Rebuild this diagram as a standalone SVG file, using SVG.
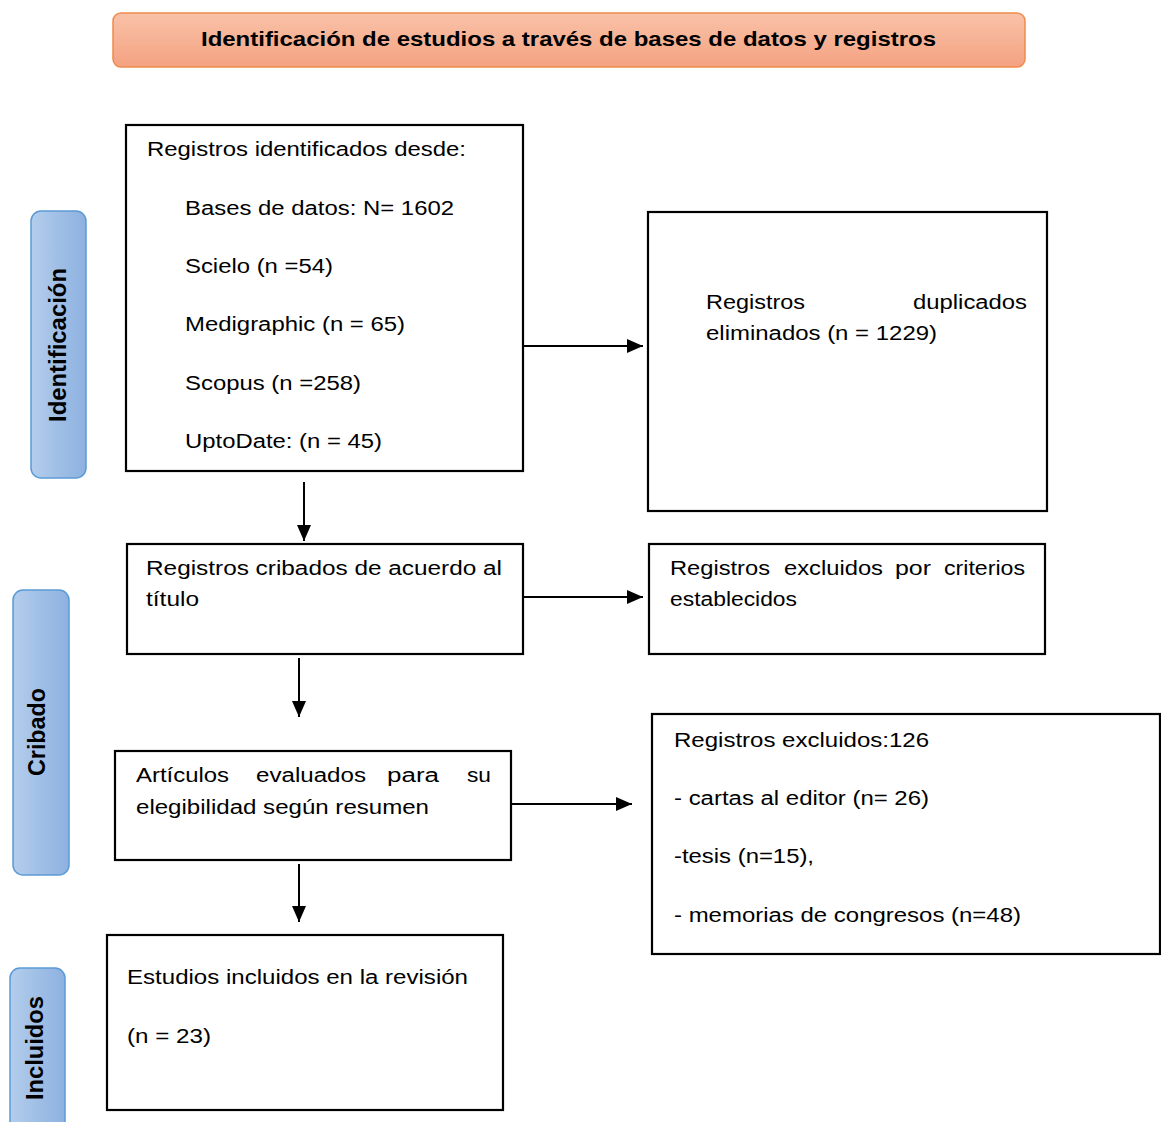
<svg xmlns="http://www.w3.org/2000/svg" width="1161" height="1122" viewBox="0 0 1161 1122">
<defs>
<linearGradient id="gOrange" x1="0" y1="0" x2="0" y2="1">
<stop offset="0" stop-color="#f9c2a8"/>
<stop offset="1" stop-color="#f4a281"/>
</linearGradient>
<linearGradient id="gBlue" x1="0" y1="0" x2="1" y2="0">
<stop offset="0" stop-color="#b3cdec"/>
<stop offset="1" stop-color="#8db1e0"/>
</linearGradient>
<marker id="arr" markerWidth="16" markerHeight="14" refX="16" refY="7" orient="auto" markerUnits="userSpaceOnUse">
<path d="M0,0 L16,7 L0,14 Z" fill="#000"/>
</marker>
<style>
.box{fill:#fff;stroke:#000;stroke-width:2.2}
.side{fill:url(#gBlue);stroke:#5b9bd5;stroke-width:1.5}
.t{font-family:"Liberation Sans",Arial,sans-serif;font-size:20px;fill:#000}
.sl{font-family:"Liberation Sans",Arial,sans-serif;font-size:23px;font-weight:bold;fill:#000;text-anchor:middle}
.hd{font-family:"Liberation Sans",Arial,sans-serif;font-size:20.5px;font-weight:bold;fill:#000}
.c{stroke:#000;stroke-width:2;fill:none;marker-end:url(#arr)}
</style>
</defs>
<rect width="1161" height="1122" fill="#fff"/>

<g id="header">
<rect x="113" y="13" width="912" height="54" rx="8" fill="url(#gOrange)" stroke="#f08a4b" stroke-width="1.5"/>
<text class="hd" x="201" y="46" textLength="735" lengthAdjust="spacingAndGlyphs">Identificación de estudios a través de bases de datos y registros</text>
</g>

<g id="side-identificacion">
<rect class="side" x="31" y="211" width="55" height="267" rx="10"/>
<text class="sl" transform="translate(58,345) rotate(-90)" y="8" textLength="154" lengthAdjust="spacingAndGlyphs">Identificación</text>
</g>
<g id="side-cribado">
<rect class="side" x="13" y="590" width="56" height="285" rx="10"/>
<text class="sl" transform="translate(37,732) rotate(-90)" y="8" textLength="88" lengthAdjust="spacingAndGlyphs">Cribado</text>
</g>
<g id="side-incluidos">
<rect class="side" x="10" y="968" width="55" height="170" rx="10"/>
<text class="sl" transform="translate(35,1048) rotate(-90)" y="8" textLength="104" lengthAdjust="spacingAndGlyphs">Incluidos</text>
</g>

<g id="n-identificados">
<rect class="box" x="126" y="125" width="397" height="346"/>
<text class="t" x="147" y="156" textLength="319" lengthAdjust="spacingAndGlyphs">Registros identificados desde:</text>
<text class="t" x="185" y="215" textLength="269" lengthAdjust="spacingAndGlyphs">Bases de datos: N= 1602</text>
<text class="t" x="185" y="273" textLength="148" lengthAdjust="spacingAndGlyphs">Scielo (n =54)</text>
<text class="t" x="185" y="331" textLength="220" lengthAdjust="spacingAndGlyphs">Medigraphic (n = 65)</text>
<text class="t" x="185" y="390" textLength="176" lengthAdjust="spacingAndGlyphs">Scopus (n =258)</text>
<text class="t" x="185" y="448" textLength="197" lengthAdjust="spacingAndGlyphs">UptoDate: (n = 45)</text>
</g>

<g id="n-duplicados">
<rect class="box" x="648" y="212" width="399" height="299"/>
<text class="t" x="706" y="309" textLength="99" lengthAdjust="spacingAndGlyphs">Registros</text>
<text class="t" x="913" y="309" textLength="114" lengthAdjust="spacingAndGlyphs">duplicados</text>
<text class="t" x="706" y="340" textLength="231" lengthAdjust="spacingAndGlyphs">eliminados (n = 1229)</text>
</g>

<g id="n-cribados">
<rect class="box" x="127" y="544" width="396" height="110"/>
<text class="t" x="146" y="575" textLength="356" lengthAdjust="spacingAndGlyphs">Registros cribados de acuerdo al</text>
<text class="t" x="146" y="606" textLength="53" lengthAdjust="spacingAndGlyphs">título</text>
</g>

<g id="n-excluidos-criterios">
<rect class="box" x="649" y="544" width="396" height="110"/>
<text class="t" x="670" y="575" textLength="100" lengthAdjust="spacingAndGlyphs">Registros</text>
<text class="t" x="784" y="575" textLength="99" lengthAdjust="spacingAndGlyphs">excluidos</text>
<text class="t" x="895" y="575" textLength="36" lengthAdjust="spacingAndGlyphs">por</text>
<text class="t" x="944" y="575" textLength="81" lengthAdjust="spacingAndGlyphs">criterios</text>
<text class="t" x="670" y="606" textLength="127" lengthAdjust="spacingAndGlyphs">establecidos</text>
</g>

<g id="n-evaluados">
<rect class="box" x="115" y="751" width="396" height="109"/>
<text class="t" x="136" y="782" textLength="93" lengthAdjust="spacingAndGlyphs">Artículos</text>
<text class="t" x="256" y="782" textLength="110" lengthAdjust="spacingAndGlyphs">evaluados</text>
<text class="t" x="387" y="782" textLength="52" lengthAdjust="spacingAndGlyphs">para</text>
<text class="t" x="467" y="782" textLength="24" lengthAdjust="spacingAndGlyphs">su</text>
<text class="t" x="136" y="814" textLength="293" lengthAdjust="spacingAndGlyphs">elegibilidad según resumen</text>
</g>

<g id="n-excluidos">
<rect class="box" x="652" y="714" width="508" height="240"/>
<text class="t" x="674" y="747" textLength="255" lengthAdjust="spacingAndGlyphs">Registros excluidos:126</text>
<text class="t" x="674" y="805" textLength="255" lengthAdjust="spacingAndGlyphs">- cartas al editor (n= 26)</text>
<text class="t" x="674" y="863" textLength="140" lengthAdjust="spacingAndGlyphs">-tesis (n=15),</text>
<text class="t" x="674" y="922" textLength="347" lengthAdjust="spacingAndGlyphs">- memorias de congresos (n=48)</text>
</g>

<g id="n-incluidos">
<rect class="box" x="107" y="935" width="396" height="175"/>
<text class="t" x="127" y="984" textLength="341" lengthAdjust="spacingAndGlyphs">Estudios incluidos en la revisión</text>
<text class="t" x="127" y="1043" textLength="84" lengthAdjust="spacingAndGlyphs">(n = 23)</text>
</g>

<g id="connectors">
<line class="c" x1="523" y1="346" x2="643" y2="346"/>
<line class="c" x1="304" y1="482" x2="304" y2="541"/>
<line class="c" x1="523" y1="597" x2="643" y2="597"/>
<line class="c" x1="299" y1="658" x2="299" y2="717"/>
<line class="c" x1="511" y1="804" x2="632" y2="804"/>
<line class="c" x1="299" y1="864" x2="299" y2="922"/>
</g>
</svg>
